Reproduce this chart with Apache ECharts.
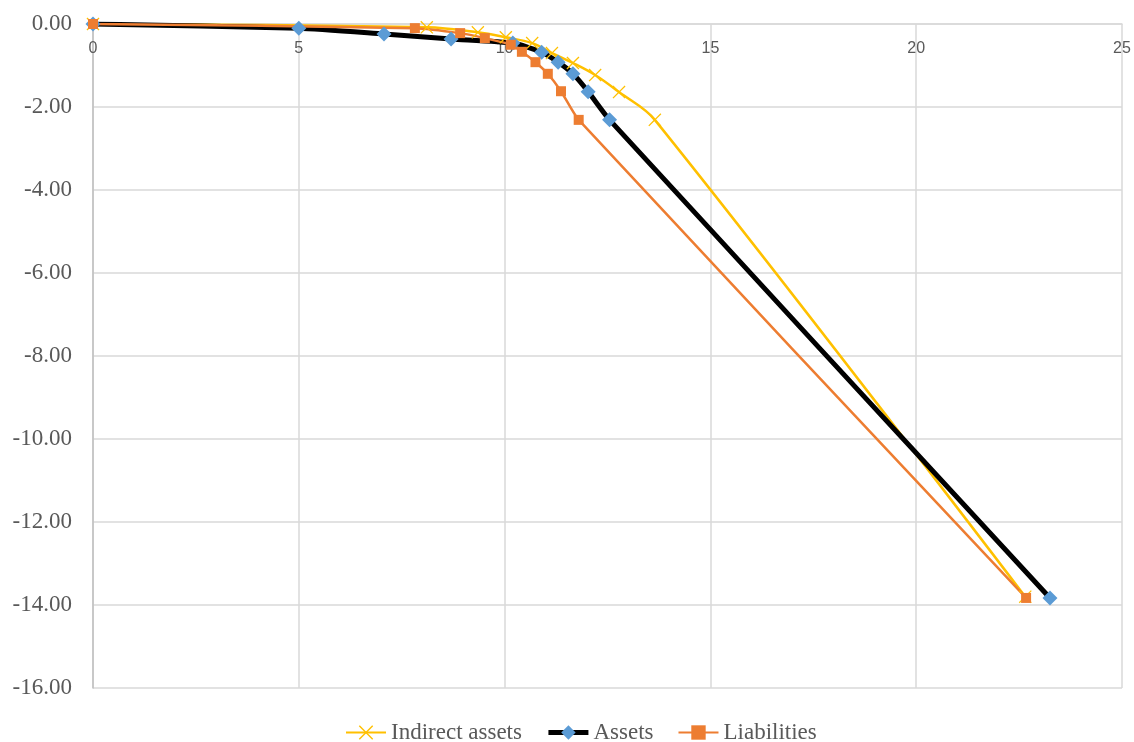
<!DOCTYPE html>
<html>
<head>
<meta charset="utf-8">
<script src="https://cdn.jsdelivr.net/npm/echarts@6/dist/echarts.min.js"></script>
<style>html,body{margin:0;padding:0;background:#fff;}#c{width:1134px;height:742px;}</style>
</head>
<body>
<div id="c"></div>
<script>
// Data
const seriesNames = ["Indirect assets", "Assets", "Liabilities"];
const indirectX = [0, 8.11, 9.35, 10.03, 10.67, 11.15, 11.66, 12.2, 12.78, 13.65, 22.65];
const indirectY = [0, -0.08, -0.2, -0.32, -0.46, -0.7, -0.94, -1.23, -1.64, -2.31, -13.8];
const assetsX = [0, 5.0, 7.07, 8.7, 10.2, 10.9, 11.3, 11.66, 12.03, 12.55, 23.25];
const assetsY = [0, -0.1, -0.24, -0.36, -0.46, -0.68, -0.92, -1.2, -1.63, -2.31, -13.83];
const liabX = [0, 7.82, 8.92, 9.52, 10.15, 10.42, 10.75, 11.05, 11.37, 11.8, 22.67];
const liabY = [0, -0.1, -0.22, -0.34, -0.5, -0.67, -0.92, -1.2, -1.62, -2.31, -13.83];
const xTicks = [0, 5, 10, 15, 20, 25];
const yTicks = [0, -2, -4, -6, -8, -10, -12, -14, -16];

const pair = (xs, ys) => xs.map((x, i) => [x, ys[i]]);
const xMark = 'path://M0,0.7L0.7,0L5,4.3L9.3,0L10,0.7L5.7,5L10,9.3L9.3,10L5,5.7L0.7,10L0,9.3L4.3,5Z';

const chart = echarts.init(document.getElementById('c'), null, {renderer: 'canvas'});
chart.setOption({
  animation: false,
  backgroundColor: '#ffffff',
  grid: {left: 93, right: 12, top: 24, bottom: 54, containLabel: false},
  xAxis: {
    type: 'value', position: 'top', min: xTicks[0], max: xTicks[xTicks.length - 1], interval: 5,
    axisLine: {show: true, onZero: false, lineStyle: {color: '#d9d9d9', width: 1.5}},
    axisTick: {show: false},
    axisLabel: {inside: true, color: '#595959', fontFamily: 'Liberation Sans', fontSize: 16, margin: 17},
    splitLine: {show: true, lineStyle: {color: '#d9d9d9', width: 1.5}}
  },
  yAxis: {
    type: 'value', min: yTicks[yTicks.length - 1], max: yTicks[0], interval: 2,
    axisLine: {show: true, lineStyle: {color: '#bfbfbf', width: 1.5}},
    axisTick: {show: false},
    axisLabel: {color: '#595959', fontFamily: 'Liberation Serif', fontSize: 23, margin: 21,
      formatter: v => v.toFixed(2)},
    splitLine: {show: true, lineStyle: {color: '#d9d9d9', width: 1.5}}
  },
  legend: {
    top: 716, left: 340, itemGap: 24, itemWidth: 40, itemHeight: 18,
    textStyle: {color: '#595959', fontFamily: 'Liberation Serif', fontSize: 23},
    data: [
      {name: seriesNames[0]},
      {name: seriesNames[1], lineStyle: {width: 5, color: '#000000'}},
      {name: seriesNames[2]}
    ]
  },
  series: [
    {
      name: seriesNames[0], type: 'line', data: pair(indirectX, indirectY),
      smooth: 0.35, symbol: xMark, symbolSize: 13, showAllSymbol: true,
      lineStyle: {color: '#ffc000', width: 2.5},
      itemStyle: {color: '#ffc000', borderWidth: 0}
    },
    {
      name: seriesNames[1], type: 'line', data: pair(assetsX, assetsY),
      smooth: 0.2, symbol: 'diamond', symbolSize: 15, showAllSymbol: true,
      lineStyle: {color: '#000000', width: 5},
      itemStyle: {color: '#5b9bd5', borderWidth: 0}
    },
    {
      name: seriesNames[2], type: 'line', data: pair(liabX, liabY),
      smooth: 0.2, symbol: 'rect', symbolSize: 10, showAllSymbol: true,
      lineStyle: {color: '#ed7d31', width: 2.5},
      itemStyle: {color: '#ed7d31', borderWidth: 0}
    }
  ]
});
</script>
</body>
</html>
